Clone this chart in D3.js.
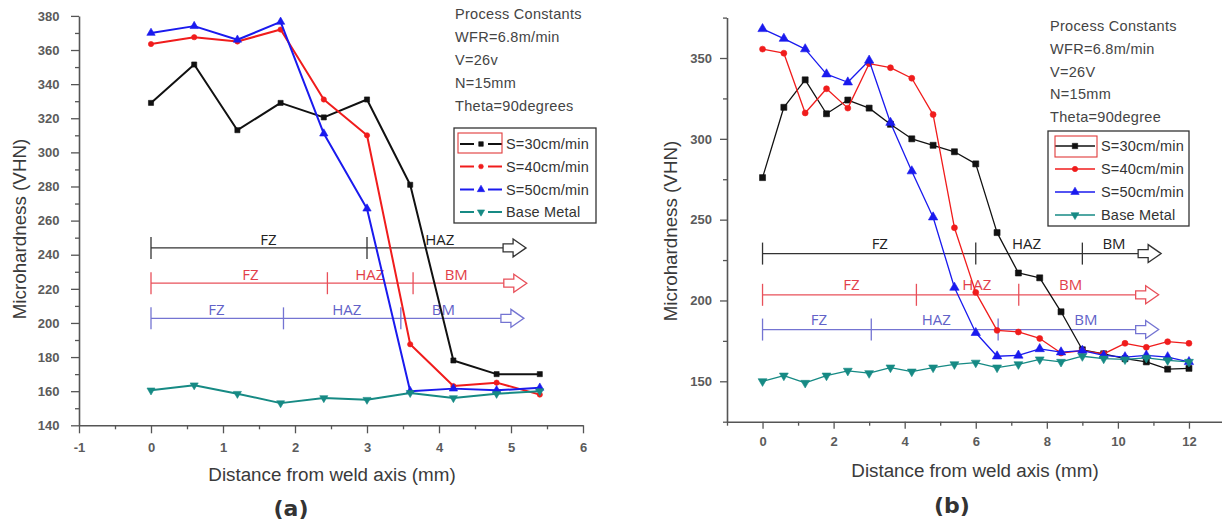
<!DOCTYPE html>
<html>
<head>
<meta charset="utf-8">
<script src="https://cdn.jsdelivr.net/npm/d3@7"></script>
<style>
  html, body { margin: 0; padding: 0; background: #fff; }
  svg { display: block; }
  text { font-family: "Liberation Sans", Arial, sans-serif; }
</style>
</head>
<body>
<svg id="fig" width="1222" height="527"></svg>
<script>
// ---------- Panel (a): hardness profiles, distance 0 to 5.4 mm ----------
const distA = [0, 0.6, 1.2, 1.8, 2.4, 3.0, 3.6, 4.2, 4.8, 5.4];
const s30A  = [329, 351.5, 313, 329, 320.5, 331, 281, 178, 170, 170];
const s40A  = [363.5, 367.5, 365, 372, 331, 310, 187.5, 163, 165, 158];
const s50A  = [370, 374, 366, 376.5, 311, 267, 160, 161.5, 160.5, 162];
const baseA = [160.5, 163.5, 158.5, 153, 156, 155, 159, 156, 158.5, 160];

const xTicksA = [-1, 0, 1, 2, 3, 4, 5, 6];
const yTicksA = [140, 160, 180, 200, 220, 240, 260, 280, 300, 320, 340, 360, 380];

// zone bands drawn inside panel (a): level, boundaries, labels
const zoneLevelsA   = [244, 223.3, 202.7];
const zoneBoundsA   = [[0, 3.0], [0, 2.45, 3.64], [0, 1.84, 3.47]];
const zoneLabelsA   = [["FZ", "HAZ"], ["FZ", "HAZ", "BM"], ["FZ", "HAZ", "BM"]];
const zoneLabelXA   = [[1.63, 4.01], [1.38, 3.04, 4.24], [0.91, 2.72, 4.06]];
const zoneArrowEndA = [4.89, 4.9, 4.86];

const constantsA = ["Process Constants", "WFR=6.8m/min", "V=26v", "N=15mm", "Theta=90degrees"];

// ---------- Panel (b): hardness profiles, distance 0 to 12 mm ----------
const distB = [0, 0.6, 1.2, 1.8, 2.4, 3.0, 3.6, 4.2, 4.8, 5.4, 6.0,
               6.6, 7.2, 7.8, 8.4, 9.0, 9.6, 10.2, 10.8, 11.4, 12.0];
const s30B  = [276, 319.5, 336.5, 315.5, 324, 319, 309, 300, 296, 292, 284.5,
               242, 217, 214, 193, 169.5, 167, 164, 162, 157.5, 158];
const s40B  = [355.5, 353, 316, 331, 319, 346.5, 344, 337.5, 315, 245, 205,
               181.5, 180.5, 176.5, 167.5, 169, 167, 173.5, 171, 174.5, 173.5];
const s50B  = [368, 362, 355.5, 340, 335, 348.5, 310, 280, 251.5, 208, 180,
               165.5, 166, 170, 168, 169, 166, 165, 166, 165, 162];
const baseB = [150, 153.5, 149, 153.5, 156.5, 155, 158.5, 156, 158.5, 160.5, 161.5,
               158.5, 160.5, 163.5, 162, 165.5, 164, 163.5, 164.5, 163, 162];

const xTicksB = [0, 2, 4, 6, 8, 10, 12];
const yTicksB = [150, 200, 250, 300, 350];

const zoneLevelsB   = [229, 203.5, 182];
const zoneBoundsB   = [[0, 6.0, 9.0], [0, 4.33, 7.21], [0, 3.06, 6.63]];
const zoneLabelsB   = [["FZ", "HAZ", "BM"], ["FZ", "HAZ", "BM"], ["FZ", "HAZ", "BM"]];
const zoneLabelXB   = [[3.3, 7.43, 9.89], [2.5, 6.03, 8.67], [1.59, 4.89, 9.1]];
const zoneArrowEndB = [10.57, 10.5, 10.5];

const constantsB = ["Process Constants", "WFR=6.8m/min", "V=26V", "N=15mm", "Theta=90degree"];

// shared series names and styling
const seriesNames   = ["S=30cm/min", "S=40cm/min", "S=50cm/min", "Base Metal"];
const seriesColors  = ["#111111", "#f01c1c", "#1a1aee", "#168a84"];
const seriesSymbols = ["square", "circle", "triangle", "down"];
const zoneColors    = ["#333333", "#e8505a", "#7474d2"];
const zoneTextColors = ["#222222", "#e23e4a", "#6262c8"];

const svg = d3.select("#fig");
// plain hyphen for negative tick values
const tickFmt = d => String(d);

function symbolPath(kind, size) {
  const type = kind === "square" ? d3.symbolSquare
             : kind === "circle" ? d3.symbolCircle
             : d3.symbolTriangle;
  return d3.symbol().type(type).size(size)();
}

function drawMarker(g, kind, cx, cy, size, color) {
  g.append("path")
    .attr("d", symbolPath(kind, size))
    .attr("transform", `translate(${cx},${cy})` + (kind === "down" ? " rotate(180)" : ""))
    .attr("fill", color)
    .attr("stroke", color)
    .attr("stroke-width", 0.6);
}

function drawPanel(p) {
  const g = svg.append("g");
  const x = d3.scaleLinear().domain(p.xDomain).range(p.xRange);
  const y = d3.scaleLinear().domain(p.yDomain).range(p.yRange);

  // ---- axes ----
  const axisColor = "#555";
  g.append("g").attr("transform", `translate(${p.xRange[0]},0)`)
    .call(d3.axisLeft(y).tickValues(p.yTicks).tickSize(p.tickLen).tickSizeOuter(0)
      .tickPadding(p.yPad).tickFormat(tickFmt));
  g.append("g").attr("transform", `translate(${p.xRange[0]},0)`)
    .call(d3.axisLeft(y).tickValues(p.yMinor).tickSize(p.minorLen).tickFormat(""))
    .call(a => a.select(".domain").remove());
  g.append("g").attr("transform", `translate(0,${p.yRange[0]})`)
    .call(d3.axisBottom(x).tickValues(p.xTicks).tickSize(p.tickLen).tickSizeOuter(0)
      .tickPadding(p.xPad).tickFormat(tickFmt));
  g.append("g").attr("transform", `translate(0,${p.yRange[0]})`)
    .call(d3.axisBottom(x).tickValues(p.xMinor).tickSize(p.minorLen).tickFormat(""))
    .call(a => a.select(".domain").remove());

  g.selectAll(".domain").attr("stroke", axisColor).attr("stroke-width", 1.6);
  g.selectAll(".tick line").attr("stroke", axisColor).attr("stroke-width", 1.3);
  g.selectAll(".tick text")
    .attr("fill", "#4a4a4a")
    .style("font-family", '"Liberation Sans", Arial, sans-serif')
    .style("font-size", "13px")
    .style("font-weight", "bold")
    .style("opacity", 0.9);

  // ---- axis titles ----
  g.append("text")
    .attr("x", p.xTitle[0]).attr("y", p.xTitle[1])
    .attr("text-anchor", "middle")
    .attr("fill", "#3a3a3a")
    .style("font-size", "18.8px")
    .text("Distance from weld axis (mm)");
  g.append("text")
    .attr("transform", `translate(${p.yTitle[0]},${p.yTitle[1]}) rotate(-90)`)
    .attr("text-anchor", "middle")
    .attr("fill", "#3a3a3a")
    .style("font-size", "18.8px")
    .text("Microhardness (VHN)");
  g.append("text")
    .attr("x", p.panelTag[0]).attr("y", p.panelTag[1])
    .attr("text-anchor", "middle")
    .attr("fill", "#333")
    .style("font-family", '"DejaVu Sans", Verdana, sans-serif')
    .style("font-weight", "bold")
    .style("font-size", "22px")
    .text(p.tag);

  // ---- zone bands (FZ / HAZ / BM) ----
  p.zoneLevels.forEach((lvl, i) => {
    const col = zoneColors[i];
    const yy = y(lvl);
    const x0 = x(p.zoneBounds[i][0]);
    const x1 = x(p.zoneArrowEnd[i]);
    g.append("line").attr("x1", x0).attr("x2", x1).attr("y1", yy).attr("y2", yy)
      .attr("stroke", col).attr("stroke-width", 1.3);
    p.zoneBounds[i].forEach(b => {
      g.append("line").attr("x1", x(b)).attr("x2", x(b))
        .attr("y1", yy - 11).attr("y2", yy + 11)
        .attr("stroke", col).attr("stroke-width", 1.3);
    });
    // hollow block arrow head
    const ah = d3.path();
    ah.moveTo(x1, yy - 4); ah.lineTo(x1 + 10, yy - 4); ah.lineTo(x1 + 10, yy - 9);
    ah.lineTo(x1 + 23, yy); ah.lineTo(x1 + 10, yy + 9); ah.lineTo(x1 + 10, yy + 4);
    ah.lineTo(x1, yy + 4); ah.closePath();
    g.append("path").attr("d", ah.toString()).attr("fill", "#fff")
      .attr("stroke", col).attr("stroke-width", 1.3).attr("stroke-linejoin", "miter");
    p.zoneLabels[i].forEach((lab, j) => {
      g.append("text")
        .attr("x", x(p.zoneLabelX[i][j])).attr("y", yy - p.zoneLabelLift)
        .attr("text-anchor", "middle")
        .attr("fill", zoneTextColors[i])
        .style("font-family", '"Open Sans", sans-serif')
        .style("font-size", "15px")
        .text(lab);
    });
  });

  // ---- data series ----
  const line = d3.line().x(d => x(d[0])).y(d => y(d[1]));
  p.series.forEach((vals, k) => {
    const pts = p.dist.map((d, i) => [d, vals[i]]);
    g.append("path").datum(pts).attr("d", line)
      .attr("fill", "none").attr("stroke", seriesColors[k])
      .attr("stroke-width", p.lineWidth).attr("stroke-linejoin", "round");
    pts.forEach(pt => drawMarker(g, seriesSymbols[k], x(pt[0]), y(pt[1]), p.markerSize[k], seriesColors[k]));
  });

  // ---- process constants ----
  p.constants.forEach((t, i) => {
    g.append("text")
      .attr("x", p.constPos[0]).attr("y", p.constPos[1] + i * p.constStep)
      .attr("fill", "#444")
      .style("font-size", "14.5px")
      .style("letter-spacing", "0.3px")
      .text(t);
  });

  // ---- legend ----
  const L = p.legend;
  g.append("rect").attr("x", L.box[0]).attr("y", L.box[1])
    .attr("width", L.box[2]).attr("height", L.box[3])
    .attr("fill", "#fff").attr("stroke", "#333").attr("stroke-width", 1.3);
  seriesNames.forEach((name, k) => {
    const ry = L.rowY[k];
    const col = seriesColors[k];
    const mid = (L.sample[0] + L.sample[1]) / 2;
    if (L.broken) {
      g.append("line").attr("x1", L.sample[0]).attr("x2", mid - 7).attr("y1", ry).attr("y2", ry)
        .attr("stroke", col).attr("stroke-width", p.lineWidth);
      g.append("line").attr("x1", mid + 7).attr("x2", L.sample[1]).attr("y1", ry).attr("y2", ry)
        .attr("stroke", col).attr("stroke-width", p.lineWidth);
    } else {
      g.append("line").attr("x1", L.sample[0]).attr("x2", L.sample[1]).attr("y1", ry).attr("y2", ry)
        .attr("stroke", col).attr("stroke-width", p.lineWidth);
    }
    drawMarker(g, seriesSymbols[k], mid, ry, p.markerSize[k] * 0.8, col);
    g.append("text").attr("x", L.textX).attr("y", ry + 5)
      .attr("fill", "#333")
      .style("font-size", "14.5px")
      .style("letter-spacing", "0.2px")
      .text(name);
  });
  // selection outline around the first legend sample
  g.append("rect").attr("x", L.sel[0]).attr("y", L.sel[1])
    .attr("width", L.sel[2]).attr("height", L.sel[3])
    .attr("fill", "none").attr("stroke", "#e03a3a").attr("stroke-width", 1.1);
}

drawPanel({
  tag: "(a)",
  dist: distA, series: [s30A, s40A, s50A, baseA],
  xDomain: [-1, 6], xRange: [79, 583],
  yDomain: [140, 380], yRange: [425.3, 15.9],
  xTicks: xTicksA, yTicks: yTicksA,
  xMinor: d3.range(-0.5, 6, 1), yMinor: d3.range(150, 380, 20),
  tickLen: 8, minorLen: 4, yPad: 11.5, xPad: 9,
  xTitle: [332, 481], yTitle: [25.5, 229], panelTag: [291, 516],
  zoneLevels: zoneLevelsA, zoneBounds: zoneBoundsA, zoneLabels: zoneLabelsA,
  zoneLabelX: zoneLabelXA, zoneArrowEnd: zoneArrowEndA, zoneLabelLift: 3,
  lineWidth: 2, markerSize: [26, 22, 30, 28],
  constants: constantsA, constPos: [455, 19], constStep: 23,
  legend: { box: [454, 128, 142, 95], rowY: [144, 166.5, 189.5, 212],
            sample: [460, 502], textX: 506, broken: true, sel: [458, 133, 44, 20] }
});

drawPanel({
  tag: "(b)",
  dist: distB, series: [s30B, s40B, s50B, baseB],
  xDomain: [-1, 13], xRange: [727, 1224.5],
  yDomain: [125, 375], yRange: [421.7, 17.6],
  xTicks: xTicksB, yTicks: yTicksB,
  xMinor: d3.range(-1, 14, 2), yMinor: d3.range(125, 400, 50),
  tickLen: 7, minorLen: 4, yPad: 8, xPad: 8,
  xTitle: [975, 477], yTitle: [676.5, 231], panelTag: [952, 513],
  zoneLevels: zoneLevelsB, zoneBounds: zoneBoundsB, zoneLabels: zoneLabelsB,
  zoneLabelX: zoneLabelXB, zoneArrowEnd: zoneArrowEndB, zoneLabelLift: 5,
  lineWidth: 1.3, markerSize: [36, 28, 38, 34],
  constants: constantsB, constPos: [1050, 31], constStep: 22.8,
  legend: { box: [1048, 131, 141, 95], rowY: [146, 169, 192, 215],
            sample: [1055, 1095], textX: 1101, broken: false, sel: [1055, 136, 42, 21] }
});
</script>
</body>
</html>
